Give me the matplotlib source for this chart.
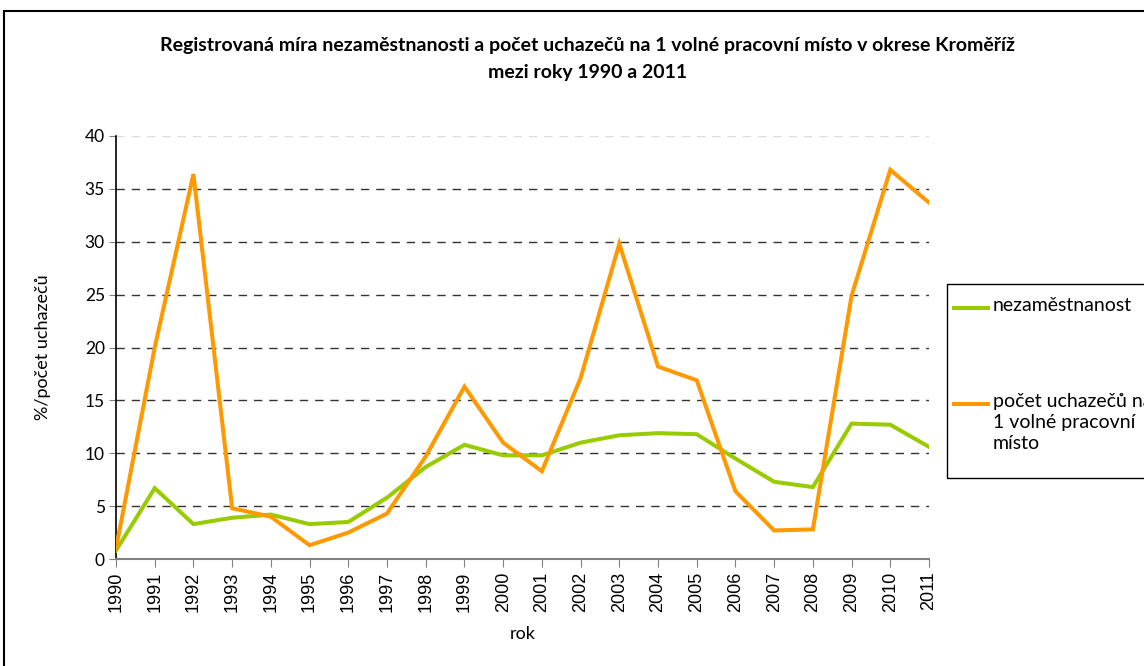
import matplotlib.pyplot as plt
from matplotlib.lines import Line2D
from matplotlib.patches import Rectangle

years = list(range(1990, 2012))
nezamestnanost = [0.8, 6.7, 3.3, 3.9, 4.2, 3.3, 3.5, 5.8, 8.7, 10.8, 9.8,
                  9.8, 11.0, 11.7, 11.9, 11.8, 9.5, 7.3, 6.8, 12.8, 12.7, 10.6]
uchazeci = [1.0, 20.0, 36.4, 4.8, 4.0, 1.3, 2.5, 4.3, 9.7, 16.3, 11.0,
            8.3, 17.1, 29.8, 18.2, 16.9, 6.4, 2.7, 2.8, 24.9, 36.8, 33.7]
yticks = list(range(0, 45, 5))

green = '#99cc00'
orange = '#ff9900'

plt.rcParams['font.family'] = ['Lato', 'DejaVu Sans']

fig = plt.figure(figsize=(11.44, 6.66), dpi=100)
ax = fig.add_axes([116 / 1144, 1 - 559 / 666, (929 - 116) / 1144, (559 - 136) / 666])

# gridlines (Excel style dashed)
for v in yticks[1:-1]:
    ax.axhline(v, color='#333333', lw=1, ls=(0, (6, 5)), zorder=1)
ax.axhline(yticks[-1], color='#dddddd', lw=1, ls=(0, (6, 5)), zorder=1)

ax.plot(years, nezamestnanost, color=green, lw=2.9, zorder=3, solid_joinstyle='miter')
ax.plot(years, uchazeci, color=orange, lw=2.9, zorder=4, solid_joinstyle='miter')

ax.set_xlim(years[0], years[-1])
ax.set_ylim(0, 40)
ax.set_yticks(yticks)
ax.set_xticks(years)
ax.set_xticklabels([str(y) for y in years], rotation=90,
                   family=['Liberation Sans', 'DejaVu Sans'], fontsize=13)
ax.tick_params(axis='y', labelsize=12.5)
ax.tick_params(axis='both', direction='out', color='#808080')
ax.tick_params(axis='x', length=6, pad=3)
ax.tick_params(axis='y', length=5, pad=3)

for s in ['top', 'right']:
    ax.spines[s].set_visible(False)
ax.spines['left'].set_color('black')
ax.spines['bottom'].set_color('#808080')
ax.spines['left'].set_linewidth(1.2)
ax.spines['bottom'].set_linewidth(1.5)

ax.set_ylabel('%/počet uchazečů', fontsize=13, labelpad=24)
ax.set_xlabel('rok', fontsize=13, labelpad=10)

fig.text(588 / 1144, 1 - 59 / 666,
         'Registrovaná míra nezaměstnanosti a počet uchazečů na 1 volné pracovní místo v okrese Kroměříž\nmezi roky 1990 a 2011',
         ha='center', va='center', fontsize=14, fontweight='bold', linespacing=1.75)

# outer chart frame
fig.patches.append(Rectangle((4 / 1144, -0.05), 1.2, 1 - 11 / 666 + 0.05,
                             transform=fig.transFigure, fill=False,
                             edgecolor='black', lw=1.5))

# legend box (runs off the right edge, as in the original)
fig.patches.append(Rectangle((947 / 1144, 1 - 478 / 666), 0.3, (478 - 284) / 666,
                             transform=fig.transFigure, fill=False,
                             edgecolor='black', lw=1))
for yy, col, lab in [(308, green, 'nezaměstnanost'),
                     (404, orange, 'počet uchazečů na\n1 volné pracovní\nmísto')]:
    fig.lines.append(Line2D([954 / 1144, 988 / 1144], [1 - yy / 666] * 2,
                            transform=fig.transFigure, color=col, lw=2.9))
    fig.text(993 / 1144, 1 - (yy - 11) / 666, lab, ha='left', va='top',
             fontsize=14, linespacing=1.3)

fig.savefig('out.png', dpi=100)
